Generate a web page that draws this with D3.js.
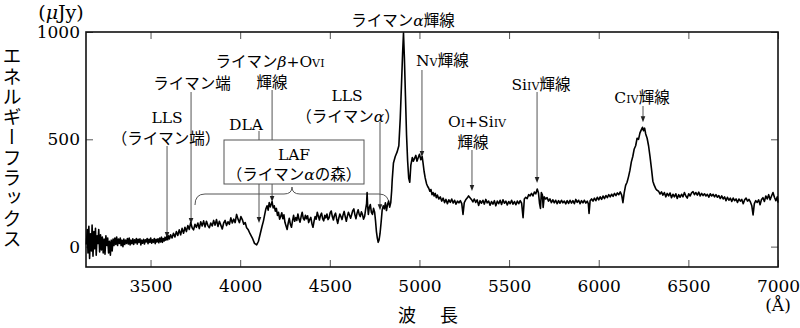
<!DOCTYPE html>
<html><head><meta charset="utf-8">
<script src="https://cdn.jsdelivr.net/npm/d3@7"></script>
<style>
body{margin:0;background:#fff}
svg{display:block}
</style></head><body>
<svg id="c" width="800" height="328"></svg>
<script>
// Spectrum: [wavelength (Å), flux (μJy)]
const spectrum = [
[3142,10],[3147,80],[3151,-30],[3156,95],[3160,-55],[3165,60],[3170,-20],[3174,100],[3179,-45],[3184,70],[3188,-10],[3193,85],[3197,-40],[3202,50],[3207,15],[3211,80],[3216,-25],[3221,55],[3226,-15],[3231,45],[3236,-30],[3241,35],[3246,-35],[3251,50],[3256,5],[3261,40],[3266,-30],[3271,25],[3276,-40],[3281,30],[3286,-20],[3291,35],[3296,5],[3301,40],[3306,10],[3311,45],[3316,5],[3321,35],[3326,15],[3331,40],[3336,5],[3341,30],[3346,0],[3351,35],[3356,10],[3361,30],[3366,15],[3371,38],[3376,12],[3381,40],[3386,8],[3391,30],[3396,14],[3401,36],[3406,10],[3411,32],[3416,18],[3421,38],[3426,12],[3431,34],[3436,20],[3441,36],[3446,8],[3451,30],[3456,16],[3461,34],[3466,12],[3471,32],[3476,22],[3481,38],[3486,14],[3491,34],[3496,20],[3501,40],[3506,16],[3511,32],[3516,20],[3521,38],[3526,14],[3531,34],[3536,22],[3541,36],[3546,18],[3551,40],[3556,22],[3561,44],[3566,20],[3571,38],[3576,26],[3581,44],[3586,30],[3591,48],[3596,32],[3601,50],[3606,36],
[3612,55],[3620,40],[3628,62],[3636,45],[3644,70],[3652,52],[3660,78],[3668,55],[3676,85],[3684,62],[3692,90],[3700,70],[3708,98],[3716,80],[3724,112],[3732,88],[3740,78],[3748,104],[3756,90],[3764,110],[3772,84],[3780,116],[3788,96],[3796,120],[3804,92],[3812,118],[3820,98],[3828,88],[3836,110],[3844,96],[3852,122],[3860,100],[3868,126],[3876,94],[3884,118],[3892,100],[3900,82],[3908,110],[3916,122],[3924,98],[3932,116],[3940,104],[3948,134],[3956,110],[3964,128],[3972,112],[3980,150],[3988,128],[3996,112],[4004,140],[4012,126],[4020,104],[4028,112],[4036,88],[4044,80],
[4055,60],[4068,40],[4080,15],[4092,8],[4102,25],[4112,60],[4122,95],
[4130,120],[4137,150],[4143,175],[4150,190],[4156,170],[4162,205],[4168,185],[4174,200],[4178,210],[4184,180],[4190,190],[4196,165],[4202,178],[4208,145],[4214,160],[4220,128],[4226,140],[4232,158],[4238,130],[4244,148],[4250,112],[4256,96],[4262,80],[4268,110],[4274,132],[4280,104],[4286,90],[4292,120],[4298,146],[4304,118],[4310,135],[4316,122],[4322,152],[4328,128],[4334,114],[4340,140],[4346,160],[4352,132],[4358,124],[4364,146],[4370,130],[4376,144],[4382,112],[4388,126],[4394,136],[4400,108],[4406,90],[4412,118],[4418,140],[4424,128],[4430,160],[4436,142],[4442,124],[4448,146],[4454,156],[4460,130],[4466,120],[4472,146],[4478,134],[4484,152],[4490,126],[4496,134],[4502,158],[4508,166],[4514,140],[4520,124],[4526,146],[4532,156],[4538,130],[4544,108],[4550,132],[4556,152],[4562,140],[4568,126],[4574,148],[4580,164],[4586,140],[4592,118],[4598,142],[4604,160],[4610,146],[4616,132],[4622,150],[4628,168],[4634,176],[4640,148],[4646,130],[4652,156],[4658,172],[4664,150],[4670,140],[4676,162],[4682,150],[4688,128],[4694,140],[4700,175],[4705,200],[4708,252],[4711,190],[4715,150],[4720,182],[4726,196],[4732,160],[4738,150],[4744,178],[4750,160],[4755,120],[4760,70],[4765,40],[4770,20],[4775,32],[4780,60],[4786,112],[4792,170],[4798,190],[4804,176],[4810,204],[4816,168],[4822,196],[4828,212],[4834,184],[4840,205],[4845,260],
[4848,310],[4855,390],[4865,420],[4875,440],[4885,470],[4893,600],[4900,760],[4906,900],[4911,995],[4916,880],[4922,700],[4928,520],[4934,400],[4940,320],[4946,300],[4952,380],[4960,415],[4966,398],[4972,410],[4980,425],[4986,398],[4992,412],[5000,430],[5008,405],[5015,420],[5020,390],[5026,350],[5032,320],[5040,292],[5046,280],[5052,272],[5058,258],[5064,266],[5070,242],[5076,252],[5082,236],[5088,248],[5094,228],
[5100,240],[5108,222],[5116,232],[5124,212],[5132,226],[5140,205],[5148,220],[5156,200],[5164,218],[5172,206],[5180,222],[5188,203],[5196,216],[5204,198],[5212,212],[5220,204],[5228,214],[5236,200],[5243,150],[5250,205],[5258,218],[5266,226],[5274,236],[5282,228],[5290,220],[5298,208],[5306,222],[5314,206],[5322,218],[5330,192],[5338,214],[5346,202],[5354,216],[5362,198],[5370,220],[5378,204],[5386,212],[5394,193],[5402,210],[5410,198],[5418,214],[5426,190],[5434,212],[5442,200],[5450,216],[5458,196],[5466,218],[5474,202],[5482,212],[5490,194],[5498,210],[5506,200],[5514,216],[5522,198],[5530,210],[5538,195],[5546,212],[5554,200],[5562,214],[5570,202],[5578,135],[5585,222],[5593,230],[5601,224],[5609,242],[5617,236],[5625,248],[5633,236],[5641,254],[5649,246],[5657,268],[5664,250],[5670,200],[5675,178],[5680,252],[5686,240],[5690,183],[5696,232],[5704,222],[5712,228],[5720,212],[5728,222],[5736,205],[5744,218],[5752,204],[5760,216],[5768,200],[5776,214],[5784,202],[5792,216],[5800,204],[5808,212],[5816,199],[5824,214],[5832,201],[5840,216],[5848,203],[5856,214],[5864,200],[5872,220],[5880,206],[5888,216],[5896,200],[5904,214],[5912,204],[5920,216],[5928,203],[5936,212],[5942,200],[5946,155],[5952,214],[5960,222],[5968,212],[5976,226],[5984,214],[5992,230],[6000,218],[6008,232],[6016,220],[6024,236],[6032,224],[6040,238],[6048,228],[6056,242],[6064,232],[6072,244],[6080,234],[6088,248],[6096,238],[6104,250],[6112,242],[6120,255],[6128,240],[6135,205],[6142,250],
[6150,285],[6158,300],[6166,325],[6174,355],[6182,395],[6190,420],[6198,455],[6206,470],[6214,505],[6222,500],[6230,530],[6238,545],[6244,556],[6250,540],[6256,552],[6262,525],[6270,505],[6278,470],[6286,420],[6294,365],[6302,305],[6310,285],[6318,270],[6326,262],[6334,258],
[6342,245],[6350,255],[6358,240],[6366,252],[6374,232],[6382,248],[6390,236],[6398,250],[6406,228],[6414,244],[6422,232],[6430,246],[6438,224],[6446,242],[6454,230],[6462,244],[6470,232],[6478,252],[6486,236],[6494,226],[6502,246],[6510,236],[6518,250],[6526,256],[6534,242],[6542,252],[6550,240],[6558,254],[6566,236],[6574,248],[6582,238],[6590,246],[6598,236],[6606,244],[6614,230],[6622,246],[6630,236],[6638,244],[6646,232],[6654,242],[6662,230],[6670,238],[6678,224],[6686,236],[6694,222],[6702,232],[6710,214],[6718,230],[6726,216],[6734,226],[6742,210],[6750,226],[6758,214],[6766,222],[6774,206],[6782,222],[6790,212],[6798,220],[6806,200],[6814,218],[6822,226],[6830,212],[6838,220],[6846,208],[6854,190],[6861,148],[6868,200],[6876,214],[6884,206],[6892,218],[6900,195],[6908,220],[6916,228],[6924,210],[6932,236],[6940,222],[6948,242],[6956,218],[6964,236],[6972,252],[6980,230],[6988,214],[6996,232],[7000,205]
];
const xTicks = [3500,4000,4500,5000,5500,6000,6500,7000];
const yTicks = [0,500,1000];
const xDomain = [3140,7000];
const yDomain = [-95,1000];

// Annotations: wavelength of arrow, flux at arrow tip
const arrows = [
  {w:3592, f:40,  top:146},
  {w:3726, f:105, top:92},
  {w:4105, f:110, top:131},
  {w:4178, f:208, top:90},
  {w:4780, f:170, top:122},
  {w:5014, f:418, top:70},
  {w:5293, f:259, top:150},
  {w:5656, f:296, top:92},
  {w:6247, f:580, top:106}
];

const SERIF = '"DejaVu Serif", "Liberation Serif", serif';
const JP = '"Noto Sans CJK JP", sans-serif';

const svg = d3.select("#c");
const L=86, R=778, T=32, B=267;
const x = d3.scaleLinear().domain(xDomain).range([L,R]);
const y = d3.scaleLinear().domain(yDomain).range([B,T]);

// axes
const tickColor = "#555";
const gB = svg.append("g").attr("transform",`translate(0,${B})`)
  .call(d3.axisBottom(x).tickValues(xTicks).tickSizeInner(-7).tickSizeOuter(0).tickPadding(13).tickFormat(d3.format("d")));
const gT = svg.append("g").attr("transform",`translate(0,${T})`)
  .call(d3.axisTop(x).tickValues(xTicks).tickSizeInner(-7).tickSizeOuter(0).tickFormat(""));
const gL = svg.append("g").attr("transform",`translate(${L},0)`)
  .call(d3.axisLeft(y).tickValues(yTicks).tickSizeInner(-7).tickSizeOuter(0).tickPadding(6).tickFormat(d3.format("d")));
const gR = svg.append("g").attr("transform",`translate(${R},0)`)
  .call(d3.axisRight(y).tickValues(yTicks).tickSizeInner(-7).tickSizeOuter(0).tickFormat(""));
[gB,gT,gL,gR].forEach(g=>{
  g.select(".domain").remove();
  g.selectAll(".tick line").attr("stroke",tickColor).attr("stroke-width",1);
  g.selectAll(".tick text").attr("fill","#000").style("font-family",SERIF).style("font-size","17px");
});

// frame
svg.append("rect").attr("x",L).attr("y",T).attr("width",R-L).attr("height",B-T)
  .attr("fill","none").attr("stroke","#111").attr("stroke-width",1.6);

// annotation lines + arrowheads
const ann = svg.append("g");
arrows.forEach(a=>{
  const ax = x(a.w), ay = y(a.f);
  ann.append("line").attr("x1",ax).attr("x2",ax).attr("y1",a.top).attr("y2",ay-4)
    .attr("stroke","#555").attr("stroke-width",1);
  ann.append("path").attr("d",`M${ax-2.3},${ay-6}L${ax+2.3},${ay-6}L${ax},${ay}Z`).attr("fill","#222");
});

// brace under LAF box
const bx0 = x(3748), bx1 = x(4830), bm = (bx0+bx1)/2;
ann.append("path").attr("fill","none").attr("stroke","#555").attr("stroke-width",1)
  .attr("d",`M${bx0},205 Q${bx0},194 ${bx0+10},194 L${bm-8},194 Q${bm},194 ${bm},187 Q${bm},194 ${bm+8},194 L${bx1-10},194 Q${bx1},194 ${bx1},205`);

// LAF box (white fill hides lines behind)
ann.append("rect").attr("x",224).attr("y",140).attr("width",140).attr("height",44)
  .attr("fill","#fff").attr("stroke","#555").attr("stroke-width",1);

// spectrum
svg.append("path").datum(spectrum)
  .attr("fill","none").attr("stroke","#000").attr("stroke-width",1.6).attr("stroke-linejoin","round")
  .attr("d", d3.line().x(d=>x(d[0])).y(d=>y(d[1])));

// rich text helper: segs = [text, type]; types: j (jp), s (serif), g (greek italic), c (small caps)
function rich(cx, cy, segs, size, anchor){
  const t = svg.append("text").attr("x",cx).attr("y",cy+0.36*size)
    .attr("text-anchor",anchor||"middle").style("font-size",size+"px").attr("fill","#000");
  segs.forEach(([s,k])=>{
    const sp = t.append("tspan").text(s);
    if(k==="j") sp.style("font-family",JP);
    else if(k==="s") sp.style("font-family",SERIF);
    else if(k==="g") sp.style("font-family",SERIF).style("font-style","italic");
    else if(k==="c") sp.style("font-family",SERIF).style("font-size",(size*0.72)+"px");
  });
  return t;
}

const fs = 15.5;
rich(403, 20, [["ライマン","j"],["α","g"],["輝線","j"]], fs);
rich(416, 60, [["N","s"],["V","c"],["輝線","j"]], fs, "start");
rich(270, 61, [["ライマン","j"],["β","g"],["+O","s"],["VI","c"]], fs);
rich(272, 82, [["輝線","j"]], fs);
rich(192, 83, [["ライマン端","j"]], fs);
rich(167, 117, [["LLS","s"]], fs);
rich(166, 138, [["（ライマン端）","j"]], fs);
rich(246, 124, [["DLA","s"]], fs);
rich(347, 95, [["LLS","s"]], fs);
rich(348, 116, [["（ライマン","j"],["α","g"],["）","j"]], fs);
rich(294, 154, [["LAF","s"]], fs);
rich(294, 174, [["（ライマン","j"],["α","g"],["の森）","j"]], fs);
rich(477, 121, [["O","s"],["I","c"],["+Si","s"],["IV","c"]], fs);
rich(473, 142, [["輝線","j"]], fs);
rich(541, 84, [["Si","s"],["IV","c"],["輝線","j"]], fs);
rich(642, 97, [["C","s"],["IV","c"],["輝線","j"]], fs);

// axis titles
rich(61, 12, [["(","s"],["μ","g"],["Jy)","s"]], 19);
rich(778, 305, [["(Å)","s"]], 17);
svg.append("text").attr("x",407).attr("y",316+0.36*18).attr("text-anchor","middle")
  .style("font-family",JP).style("font-size","18px").text("波");
svg.append("text").attr("x",449).attr("y",316+0.36*18).attr("text-anchor","middle")
  .style("font-family",JP).style("font-size","18px").text("長");
svg.append("text").attr("x",12).attr("y",148)
  .attr("text-anchor","middle")
  .style("writing-mode","vertical-rl").style("font-family",JP).style("font-size","19px")
  .style("letter-spacing","1.3px")
  .text("エネルギーフラックス");
</script>
</body></html>
